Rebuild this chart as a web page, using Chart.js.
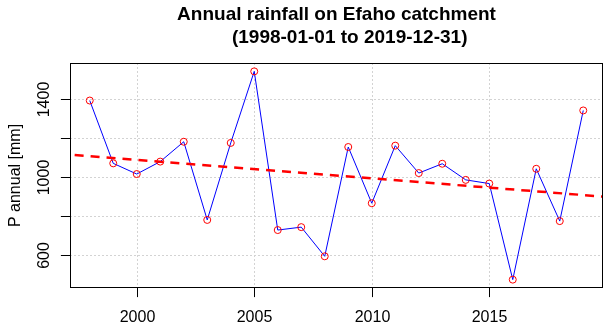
<!DOCTYPE html>
<html><head><meta charset="utf-8">
<script src="https://cdn.jsdelivr.net/npm/chart.js@4/dist/chart.umd.min.js"></script>
<style>html,body{margin:0;padding:0;background:#fff}canvas{display:block}</style>
</head><body>
<canvas id="c" width="608" height="329"></canvas>
<script>
// ---- data ----
const years = [1998,1999,2000,2001,2002,2003,2004,2005,2006,2007,2008,2009,2010,2011,2012,2013,2014,2015,2016,2017,2018,2019];
const rainfall = [1392,1069,1014,1078,1180,778,1174,1542,726,741,591,1153,864,1160,1019,1067,984,965,471,1041,772,1341];
// trend line (red dashed), value at two years just outside the plotted range
const trendYears = [1996, 2021];
const trendValues = [1125, 887];
// axes
const xRange = [1997.16, 2019.84];
const yRange = [428, 1585];
const xTicks = [2000, 2005, 2010, 2015];
const xTickLabels = ['2000', '2005', '2010', '2015'];
const yTicks = [600, 800, 1000, 1200, 1400];
const yTickLabels = ['600', '', '1000', '', '1400'];
const titleLines = ['Annual rainfall on Efaho catchment', '     (1998-01-01 to 2019-12-31)'];
const yTitle = 'P annual [mm]';

const FONT = '"Liberation Sans", Arial, sans-serif';

const decor = {
  id: 'decor',
  beforeDraw(chart) {
    const ctx = chart.ctx;
    ctx.save();
    ctx.fillStyle = '#ffffff';
    ctx.fillRect(0, 0, chart.width, chart.height);
    ctx.restore();
  },
  beforeDatasetsDraw(chart) {
    const {ctx, chartArea: a, scales: {x, y}} = chart;
    ctx.save();
    ctx.strokeStyle = '#d3d3d3';
    ctx.lineWidth = 1;
    ctx.setLineDash([2, 2]);
    xTicks.forEach(v => {
      const px = Math.round(x.getPixelForValue(v)) + 0.5;
      ctx.beginPath(); ctx.moveTo(px, a.top); ctx.lineTo(px, a.bottom); ctx.stroke();
    });
    yTicks.forEach(v => {
      const py = Math.round(y.getPixelForValue(v)) + 0.5;
      ctx.beginPath(); ctx.moveTo(a.left, py); ctx.lineTo(a.right, py); ctx.stroke();
    });
    ctx.restore();
  },
  afterDraw(chart) {
    const {ctx, chartArea: a, scales: {x, y}} = chart;
    ctx.save();
    ctx.strokeStyle = '#000';
    ctx.lineWidth = 1;
    ctx.setLineDash([]);
    const L = a.left + 0.5, T = a.top + 0.5, R = a.right - 0.5, B = a.bottom - 0.5;
    ctx.strokeRect(L, T, R - L, B - T);
    const tl = 9.6;
    ctx.fillStyle = '#000';
    ctx.font = '16px ' + FONT;
    xTicks.forEach((v, i) => {
      const px = Math.round(x.getPixelForValue(v)) + 0.5;
      ctx.beginPath(); ctx.moveTo(px, B); ctx.lineTo(px, B + tl); ctx.stroke();
      ctx.textAlign = 'center'; ctx.textBaseline = 'alphabetic';
      ctx.fillText(xTickLabels[i], px, 321.5);
    });
    yTicks.forEach((v, i) => {
      const py = Math.round(y.getPixelForValue(v)) + 0.5;
      ctx.beginPath(); ctx.moveTo(L - tl, py); ctx.lineTo(L, py); ctx.stroke();
      if (yTickLabels[i]) {
        ctx.save();
        ctx.translate(49, py);
        ctx.rotate(-Math.PI / 2);
        ctx.textAlign = 'center'; ctx.textBaseline = 'alphabetic';
        ctx.fillText(yTickLabels[i], 0, 0);
        ctx.restore();
      }
    });
    // y axis title
    ctx.save();
    ctx.translate(20, (a.top + a.bottom) / 2);
    ctx.rotate(-Math.PI / 2);
    ctx.textAlign = 'center'; ctx.textBaseline = 'alphabetic';
    ctx.fillText(yTitle, 0, 0);
    ctx.restore();
    // main title
    ctx.font = 'bold 19px ' + FONT;
    ctx.textAlign = 'center'; ctx.textBaseline = 'alphabetic';
    const cx = (a.left + a.right) / 2;
    ctx.fillText(titleLines[0], cx, 20);
    ctx.fillText(titleLines[1], cx, 43);
    ctx.restore();
  }
};

new Chart(document.getElementById('c'), {
  type: 'line',
  data: {
    datasets: [
      {
        label: 'trend',
        data: trendYears.map((v, i) => ({x: v, y: trendValues[i]})),
        borderColor: '#ff0000',
        borderWidth: 2.5,
        borderDash: [9, 7],
        pointRadius: 0,
        fill: false,
        tension: 0,
        order: 0,
        clip: 0
      },
      {
        label: 'P annual',
        data: years.map((v, i) => ({x: v, y: rainfall[i]})),
        borderColor: '#0000ff',
        borderWidth: 1,
        pointRadius: 3.5,
        pointBorderColor: '#ff0000',
        pointBackgroundColor: 'rgba(0,0,0,0)',
        pointBorderWidth: 1,
        fill: false,
        tension: 0,
        order: 1,
        clip: false
      }
    ]
  },
  options: {
    responsive: false,
    animation: false,
    devicePixelRatio: 1,
    layout: {padding: {left: 0, top: 63, right: 5, bottom: 0}},
    plugins: {legend: {display: false}, tooltip: {enabled: false}, title: {display: false}},
    scales: {
      x: {
        type: 'linear', min: xRange[0], max: xRange[1],
        afterFit(s) { s.height = 41; },
        afterBuildTicks(s) { s.ticks = xTicks.map(v => ({value: v})); },
        ticks: {display: false},
        grid: {display: false},
        border: {display: false}
      },
      y: {
        type: 'linear', min: yRange[0], max: yRange[1],
        afterFit(s) { s.width = 70; },
        afterBuildTicks(s) { s.ticks = yTicks.map(v => ({value: v})); },
        ticks: {display: false},
        grid: {display: false},
        border: {display: false}
      }
    }
  },
  plugins: [decor]
});
</script>
</body></html>
